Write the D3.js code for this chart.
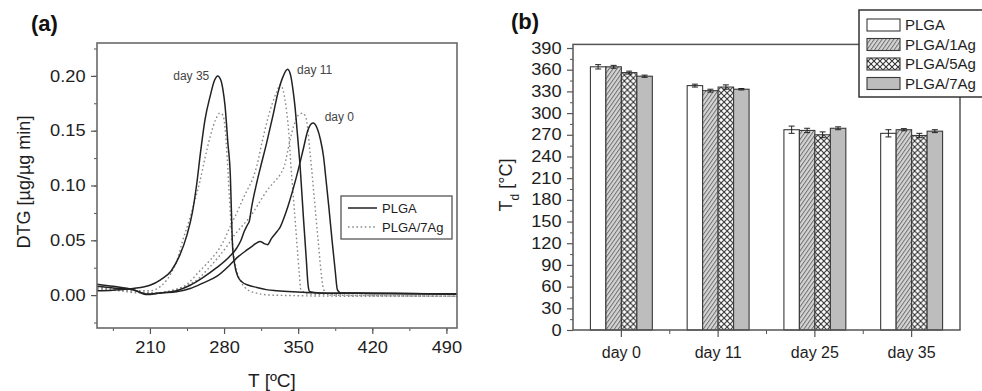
<!DOCTYPE html>
<html lang="en">
<head>
  <meta charset="UTF-8">
  <title>DTG curves and Td bars</title>
  <script src="https://d3js.org/d3.v7.min.js"></script>
  <style>
    body { margin: 0; background: #fff; }
    svg { display: block; font-family: "Liberation Sans", Arial, sans-serif; }
  </style>
</head>
<body>
<svg id="chart" width="982" height="391"></svg>
<script>
  // ---- panel (a): DTG curves, [T (°C), DTG]
  const plgaDay0 = [[160,0.008],[175,0.0065],[194,0.005],[207,0.0005],[220,0.002],[235,0.003],[248,0.006],[260,0.011],[273,0.017],[285,0.027],[292,0.034],[300,0.040],[307,0.045],[314,0.049],[318,0.047],[321,0.046],[325,0.052],[330,0.058],[333,0.062],[336,0.069],[340,0.080],[345,0.096],[350,0.114],[355,0.134],[359,0.150],[364,0.157],[368,0.152],[371,0.142],[374,0.126],[376,0.108],[379,0.080],[382,0.050],[385,0.022],[387,0.005],[390,0.002],[450,0.0015],[500,0.001]];
  const plgaDay11 = [[160,0.010],[175,0.008],[194,0.005],[207,0.001],[220,0.002],[235,0.004],[248,0.009],[260,0.016],[273,0.025],[285,0.035],[292,0.043],[296,0.050],[299,0.058],[302,0.064],[304,0.068],[306,0.080],[308,0.090],[311,0.103],[314,0.115],[320,0.138],[326,0.163],[331,0.185],[336,0.200],[340,0.206],[343,0.200],[345,0.188],[347,0.172],[349,0.150],[352,0.115],[355,0.070],[357.5,0.035],[359.5,0.008],[361,0.003],[370,0.002],[420,0.0015],[500,0.001]];
  const plgaDay35 = [[160,0.004],[175,0.0045],[194,0.006],[210,0.009],[220,0.014],[230,0.022],[238,0.036],[245,0.055],[250,0.075],[254,0.100],[258,0.132],[262,0.160],[267,0.182],[271,0.196],[274,0.200],[277,0.196],[279,0.187],[281,0.172],[283.5,0.140],[286,0.107],[287,0.075],[288,0.045],[290,0.028],[293,0.017],[297,0.012],[303,0.009],[311,0.007],[320,0.005],[330,0.004],[345,0.003],[370,0.002],[420,0.0015],[500,0.001]];
  const ag7Day0 = [[160,0.005],[180,0.004],[200,0.002],[215,0.002],[230,0.004],[245,0.009],[257,0.016],[265,0.024],[275,0.035],[283,0.045],[290,0.055],[298,0.064],[305,0.072],[313,0.084],[321,0.096],[328,0.104],[333,0.110],[337,0.118],[342,0.140],[346,0.155],[350,0.164],[354,0.166],[357,0.163],[359,0.152],[361,0.132],[363,0.112],[366,0.080],[369,0.048],[372,0.018],[374,0.005],[380,0.0],[500,-0.001]];
  const ag7Day11 = [[160,0.007],[180,0.005],[200,0.003],[215,0.002],[230,0.004],[245,0.010],[257,0.022],[265,0.030],[273,0.039],[280,0.050],[286,0.063],[292,0.075],[297,0.086],[302,0.096],[307,0.106],[311,0.118],[316,0.140],[321,0.160],[326,0.176],[330,0.186],[333,0.192],[336,0.186],[339,0.168],[341,0.150],[343,0.120],[345,0.095],[347,0.070],[349,0.045],[351,0.020],[352.5,0.005],[360,0.001],[500,-0.001]];
  const ag7Day35 = [[160,0.006],[180,0.005],[195,0.004],[210,0.004],[220,0.008],[230,0.020],[236,0.033],[241,0.050],[247,0.068],[252,0.085],[257,0.103],[262,0.125],[267,0.145],[272,0.160],[276,0.166],[279,0.164],[281,0.152],[283,0.125],[285,0.090],[287,0.060],[289,0.038],[292,0.022],[296,0.012],[302,0.005],[310,0.002],[325,0.0],[400,-0.001],[500,-0.001]];
  const curveLabels = [
    { text: "day 35", t: 266, v: 0.200, anchor: "end" },
    { text: "day 11", t: 349, v: 0.206, anchor: "start" },
    { text: "day 0", t: 375, v: 0.163, anchor: "start" }
  ];
  const dtgTicks = [0, 0.05, 0.10, 0.15, 0.20];
  const tempTicks = [210, 280, 350, 420, 490];

  // ---- panel (b): Td bars
  const days = ["day 0", "day 11", "day 25", "day 35"];
  const samples = ["PLGA", "PLGA/1Ag", "PLGA/5Ag", "PLGA/7Ag"];
  const tdPLGA  = [364, 338, 277, 272];
  const td1Ag   = [364, 331, 276, 277];
  const td5Ag   = [356, 336, 270, 269];
  const td7Ag   = [351, 333, 279, 275];
  const errPLGA = [3, 2, 5, 5];
  const err1Ag  = [2, 2, 3, 1.5];
  const err5Ag  = [2, 3, 4, 3];
  const err7Ag  = [1.5, 1, 2, 2];
  const tdTicks = d3.range(0, 391, 30);

  const svg = d3.select("#chart");
  const axisColor = "#555";
  const textColor = "#1e1e1e";

  // patterns
  const defs = svg.append("defs");
  const hatch = defs.append("pattern").attr("id", "hatch")
    .attr("patternUnits", "userSpaceOnUse").attr("width", 3.2).attr("height", 3.2)
    .attr("patternTransform", "rotate(35)");
  hatch.append("rect").attr("width", 3.2).attr("height", 3.2).attr("fill", "#d4d4d4");
  hatch.append("line").attr("x1", 0.5).attr("x2", 0.5).attr("y1", 0).attr("y2", 3.2)
    .attr("stroke", "#666").attr("stroke-width", 0.9);

  const cross = defs.append("pattern").attr("id", "cross")
    .attr("patternUnits", "userSpaceOnUse").attr("width", 6).attr("height", 6);
  cross.append("rect").attr("width", 6).attr("height", 6).attr("fill", "#fff");
  cross.append("path").attr("d", "M0,0L6,6M6,0L0,6")
    .attr("stroke", "#333").attr("stroke-width", 1.1).attr("fill", "none");

  const fills = ["#fff", "url(#hatch)", "url(#cross)", "#bdbdbd"];

  // ================= panel (a) =================
  const xA = d3.scaleLinear().domain([160, 500]).range([97, 457]);
  const yA = d3.scaleLinear().domain([-0.03, 0.23]).range([328, 43]);

  const gA = svg.append("g");

  // minor ticks
  gA.append("g").attr("transform", "translate(97,0)")
    .call(d3.axisLeft(yA).tickValues(d3.range(-0.025, 0.23, 0.025)).tickSize(3).tickFormat(""))
    .call(g => g.select(".domain").remove())
    .call(g => g.selectAll("line").attr("stroke", axisColor));
  gA.append("g").attr("transform", "translate(0,328)")
    .call(d3.axisBottom(xA).tickValues(d3.range(175, 500, 35)).tickSize(3).tickFormat(""))
    .call(g => g.select(".domain").remove())
    .call(g => g.selectAll("line").attr("stroke", axisColor));

  // major ticks
  gA.append("g").attr("transform", "translate(97,0)")
    .call(d3.axisLeft(yA).tickValues(dtgTicks).tickSize(6).tickPadding(4).tickFormat(d3.format(".2f")))
    .call(g => g.select(".domain").remove())
    .call(g => g.selectAll("line").attr("stroke", axisColor).attr("stroke-width", 1.2))
    .call(g => g.selectAll("text").attr("font-size", 16).attr("fill", textColor)
      .attr("font-family", "Liberation Sans, Arial, sans-serif")
      .attr("transform", "scale(1.14,1)"));
  gA.append("g").attr("transform", "translate(0,328)")
    .call(d3.axisBottom(xA).tickValues(tempTicks).tickSize(6).tickPadding(8))
    .call(g => g.select(".domain").remove())
    .call(g => g.selectAll("line").attr("stroke", axisColor).attr("stroke-width", 1.2))
    .call(g => g.selectAll("text").attr("font-size", 16).attr("fill", textColor)
      .attr("font-family", "Liberation Sans, Arial, sans-serif")
      .attr("transform", "scale(1.14,1)"));

  const line = d3.line().x(d => xA(d[0])).y(d => yA(d[1])).curve(d3.curveMonotoneX);

  [ag7Day0, ag7Day11, ag7Day35].forEach(s => {
    gA.append("path").datum(s).attr("d", line)
      .attr("fill", "none").attr("stroke", "#8a8a8a").attr("stroke-width", 1.4)
      .attr("stroke-dasharray", "1.6,2.6");
  });
  [plgaDay0, plgaDay11, plgaDay35].forEach(s => {
    gA.append("path").datum(s).attr("d", line)
      .attr("fill", "none").attr("stroke", "#222").attr("stroke-width", 1.5);
  });

  gA.selectAll(".clabel").data(curveLabels).enter().append("text")
    .attr("x", d => xA(d.t)).attr("y", d => yA(d.v))
    .attr("dy", "0.35em").attr("text-anchor", d => d.anchor)
    .attr("font-size", 12).attr("fill", "#444")
    .text(d => d.text);

  // frame
  gA.append("rect").attr("x", 97).attr("y", 43).attr("width", 360).attr("height", 285)
    .attr("fill", "none").attr("stroke", "#6a6a6a").attr("stroke-width", 1.6);

  // legend (a)
  const legA = gA.append("g").attr("transform", "translate(341,196)");
  legA.append("rect").attr("width", 111).attr("height", 43)
    .attr("fill", "#fff").attr("stroke", "#555").attr("stroke-width", 1.3);
  legA.append("line").attr("x1", 7).attr("x2", 36).attr("y1", 12).attr("y2", 12)
    .attr("stroke", "#222").attr("stroke-width", 1.5);
  legA.append("line").attr("x1", 7).attr("x2", 36).attr("y1", 31).attr("y2", 31)
    .attr("stroke", "#8a8a8a").attr("stroke-width", 1.4).attr("stroke-dasharray", "1.6,2.6");
  legA.append("text").attr("x", 41).attr("y", 12).attr("dy", "0.35em")
    .attr("font-size", 13).attr("fill", textColor).text("PLGA");
  legA.append("text").attr("x", 41).attr("y", 31).attr("dy", "0.35em")
    .attr("font-size", 13).attr("fill", textColor).text("PLGA/7Ag");

  // axis titles + panel tag
  svg.append("text").attr("transform", "translate(30,182) rotate(-90)")
    .attr("text-anchor", "middle").attr("font-size", 18).attr("fill", textColor)
    .text("DTG [µg/µg min]");
  svg.append("text").attr("x", 272).attr("y", 387).attr("text-anchor", "middle")
    .attr("font-size", 19).attr("fill", textColor).text("T [ºC]");
  svg.append("text").attr("x", 31).attr("y", 31).attr("font-size", 22)
    .attr("font-weight", "bold").attr("fill", "#111").text("(a)");

  // ================= panel (b) =================
  const xB = d3.scaleBand().domain(days).range([573, 960]).paddingInner(0.36).paddingOuter(0.18);
  const xS = d3.scaleBand().domain(samples).range([0, xB.bandwidth()]);
  const yB = d3.scaleLinear().domain([0, 395]).range([330, 44.4]);

  const gB = svg.append("g");

  gB.append("g").attr("transform", "translate(573,0)")
    .call(d3.axisLeft(yB).tickValues(d3.range(15, 391, 30)).tickSize(3).tickFormat(""))
    .call(g => g.select(".domain").remove())
    .call(g => g.selectAll("line").attr("stroke", axisColor));
  gB.append("g").attr("transform", "translate(573,0)")
    .call(d3.axisLeft(yB).tickValues(tdTicks).tickSize(6).tickPadding(4))
    .call(g => g.select(".domain").remove())
    .call(g => g.selectAll("line").attr("stroke", axisColor).attr("stroke-width", 1.2))
    .call(g => g.selectAll("text").attr("font-size", 16).attr("fill", textColor)
      .attr("font-family", "Liberation Sans, Arial, sans-serif")
      .attr("transform", "scale(1.14,1)"));

  const xAxisB = gB.append("g").attr("transform", "translate(0,330)")
    .call(d3.axisBottom(xB).tickSize(7).tickPadding(10))
    .call(g => g.select(".domain").remove())
    .call(g => g.selectAll("line").attr("stroke", axisColor).attr("stroke-width", 1.2))
    .call(g => g.selectAll("text").attr("font-size", 16).attr("fill", textColor)
      .attr("font-family", "Liberation Sans, Arial, sans-serif"));
  // minor ticks between the groups
  xAxisB.selectAll(".between").data(days.slice(1)).enter().append("line")
    .attr("x1", d => xB(d) - xB.step() * 0.18).attr("x2", d => xB(d) - xB.step() * 0.18)
    .attr("y1", 0).attr("y2", 4).attr("stroke", axisColor);

  const table = [];
  const allTd = [tdPLGA, td1Ag, td5Ag, td7Ag];
  const allErr = [errPLGA, err1Ag, err5Ag, err7Ag];
  days.forEach((day, i) => samples.forEach((s, j) => {
    table.push({ day, s, j, v: allTd[j][i], e: allErr[j][i] });
  }));

  const bars = gB.selectAll(".bar").data(table).enter().append("g")
    .attr("transform", d => `translate(${xB(d.day) + xS(d.s)},0)`);
  bars.append("rect")
    .attr("x", 0).attr("width", xS.bandwidth())
    .attr("y", d => yB(d.v)).attr("height", d => yB(0) - yB(d.v))
    .attr("fill", d => fills[d.j]).attr("stroke", "#3a3a3a").attr("stroke-width", 1.1);
  const cx = xS.bandwidth() / 2;
  bars.append("line").attr("x1", cx).attr("x2", cx)
    .attr("y1", d => yB(d.v + d.e)).attr("y2", d => yB(d.v - d.e))
    .attr("stroke", "#222").attr("stroke-width", 1);
  bars.append("line").attr("x1", cx - 3).attr("x2", cx + 3)
    .attr("y1", d => yB(d.v + d.e)).attr("y2", d => yB(d.v + d.e))
    .attr("stroke", "#222").attr("stroke-width", 1);
  bars.append("line").attr("x1", cx - 3).attr("x2", cx + 3)
    .attr("y1", d => yB(d.v - d.e)).attr("y2", d => yB(d.v - d.e))
    .attr("stroke", "#222").attr("stroke-width", 1);

  gB.append("rect").attr("x", 573).attr("y", 44.4).attr("width", 387).attr("height", 285.6)
    .attr("fill", "none").attr("stroke", "#555").attr("stroke-width", 1.5);

  // legend (b)
  const legB = gB.append("g").attr("transform", "translate(859,10)");
  legB.append("rect").attr("width", 130).attr("height", 87)
    .attr("fill", "#fff").attr("stroke", "#333").attr("stroke-width", 1.5);
  samples.forEach((s, j) => {
    const cy = 15 + j * 19.5;
    legB.append("rect").attr("x", 8).attr("y", cy - 6).attr("width", 33).attr("height", 12)
      .attr("fill", fills[j]).attr("stroke", "#3a3a3a").attr("stroke-width", 1.1);
    legB.append("text").attr("x", 46).attr("y", cy).attr("dy", "0.36em")
      .attr("font-size", 15).attr("fill", textColor).text(s);
  });

  const yTitle = svg.append("text").attr("transform", "translate(512,185) rotate(-90)")
    .attr("text-anchor", "middle").attr("font-size", 18).attr("fill", textColor);
  yTitle.append("tspan").text("T");
  yTitle.append("tspan").attr("baseline-shift", "sub").attr("font-size", 12).text("d");
  yTitle.append("tspan").text(" [°C]");
  svg.append("text").attr("x", 511).attr("y", 29).attr("font-size", 22)
    .attr("font-weight", "bold").attr("fill", "#111").text("(b)");
</script>
</body>
</html>
